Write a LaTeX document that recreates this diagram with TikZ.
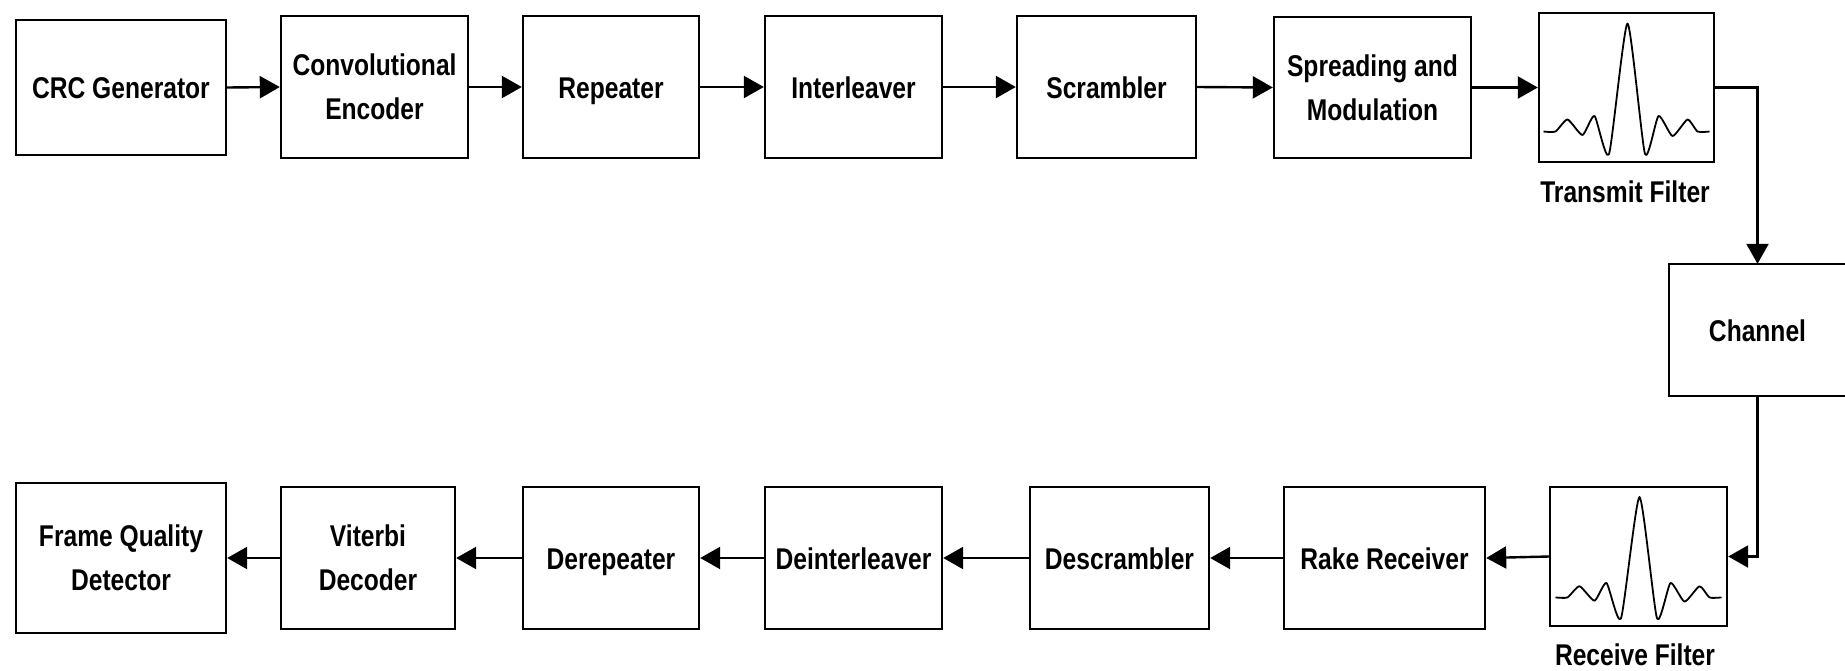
\documentclass[tikz,border=0pt]{standalone}
\usepackage{fontspec}
\setmainfont[FakeStretch=0.82]{Liberation Sans}
\usetikzlibrary{arrows.meta}
\tikzset{
  blk/.style={draw, line width=2.4pt, align=center, inner sep=0pt,
    font=\fontsize{30}{44}\selectfont\bfseries},
  one/.style={blk, text height=22pt, text depth=0pt},
  conn/.style={line width=2.4pt, -{Triangle[length=20pt,width=22pt]}},
  plain/.style={line width=2.4pt},
  wave/.style={line width=1.8pt, line join=round},
  lbl/.style={inner sep=0pt, font=\fontsize{30}{36}\selectfont\bfseries}
}
\begin{document}
\begin{tikzpicture}[x=1pt,y=-1pt]
\useasboundingbox (0,0) rectangle (1845,670);
% top row
\node[one, minimum width=210pt, minimum height=135pt] (crc) at (121,87.5) {CRC Generator};
\node[blk, minimum width=187pt, minimum height=142pt] (conv) at (374.5,87) {Convolutional\\Encoder};
\node[one, minimum width=176pt, minimum height=142pt] (rep) at (611,87) {Repeater};
\node[one, minimum width=177pt, minimum height=142pt] (int) at (853.5,87) {Interleaver};
\node[one, minimum width=179pt, minimum height=142pt] (scr) at (1106.5,87) {Scrambler};
\node[blk, minimum width=197pt, minimum height=141pt] (spr) at (1372.5,87.5) {Spreading and\\Modulation};
\node[blk, minimum width=175pt, minimum height=149pt] (txf) at (1626.5,87.5) {};
\node[lbl] (txl) at (1625,192) {Transmit Filter};
% channel (cut by right border)
\node[one, draw=none, minimum width=175pt, minimum height=130pt] (chan) at (1757.5,330) {Channel};
\draw[plain] (chan.north east) -- (chan.north west) -- (chan.south west) -- (chan.south east);
% bottom row
\node[blk, minimum width=210pt, minimum height=150pt] (fqd) at (121,558) {Frame Quality\\Detector};
\node[blk, minimum width=174pt, minimum height=142pt] (vit) at (368,558) {Viterbi\\Decoder};
\node[one, minimum width=176pt, minimum height=142pt] (drp) at (611,558) {Derepeater};
\node[one, minimum width=177pt, minimum height=142pt] (dil) at (853.5,558) {Deinterleaver};
\node[one, minimum width=179pt, minimum height=142pt] (dsc) at (1119.5,558) {Descrambler};
\node[one, minimum width=201pt, minimum height=142pt] (rak) at (1384.5,558) {Rake Receiver};
\node[blk, minimum width=177pt, minimum height=139pt] (rxf) at (1638.5,556.5) {};
\node[lbl] (rxl) at (1635,655) {Receive Filter};
% waveforms
\draw[wave, shift={(txf.center)}] plot[smooth, tension=0.35] coordinates {
 (-83,44) (-71,44) (-59,32) (-44,47.5) (-32,28.5) (-17.5,66.5) (1,-64) (18.5,66.5)
 (32,28.5) (46,48.5) (61,32) (71,44) (83,44)};
\draw[wave, shift={(rxf.center)}, yscale=0.93] plot[smooth, tension=0.35] coordinates {
 (-83,44) (-71,44) (-59,32) (-44,47.5) (-32,28.5) (-17.5,66.5) (1,-64) (18.5,66.5)
 (32,28.5) (46,48.5) (61,32) (71,44) (83,44)};
% connectors top
\draw[conn] (crc.east) -- (conv.west);
\draw[conn] (conv.east) -- (rep.west);
\draw[conn] (rep.east) -- (int.west);
\draw[conn] (int.east) -- (scr.west);
\draw[conn] (scr.east) -- (spr.west);
\draw[conn] (spr.east) -- (txf.west);
\draw[conn] (txf.east) -| (chan.north);
\draw[conn] (chan.south) |- (rxf.east);
% connectors bottom
\draw[conn] (rxf.west) -- (rak.east);
\draw[conn] (rak.west) -- (dsc.east);
\draw[conn] (dsc.west) -- (dil.east);
\draw[conn] (dil.west) -- (drp.east);
\draw[conn] (drp.west) -- (vit.east);
\draw[conn] (vit.west) -- (fqd.east);
\end{tikzpicture}
\end{document}
